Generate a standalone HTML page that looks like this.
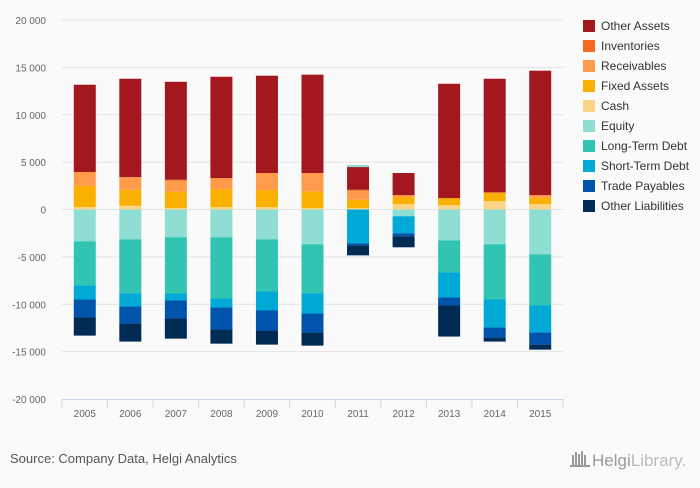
<!DOCTYPE html>
<html><head><meta charset="utf-8"><style>
body{margin:0;background:#fafafa;font-family:"Liberation Sans",sans-serif;}
svg text{font-family:"Liberation Sans",sans-serif;}
</style></head><body>
<svg id="chart" width="700" height="483" xmlns="http://www.w3.org/2000/svg">
<rect width="700" height="483" fill="#fafafa"/>
<g id="grid"></g><g id="bars"></g><g id="axes"></g><g id="legend"></g>
<text x="10" y="463" font-size="13" fill="#555">Source: Company Data, Helgi Analytics</text>
<g>
<g fill="#999"><rect x="572" y="455" width="2" height="11"/><rect x="575" y="452" width="2" height="14"/><rect x="578" y="454" width="2" height="12"/><rect x="581" y="451" width="2" height="15"/><rect x="584" y="455" width="2" height="11"/><rect x="570" y="465" width="20" height="2"/></g>
<text x="592" y="466" font-size="17" fill="#999" font-family="Liberation Serif, serif">Helgi<tspan fill="#bbb">Library.</tspan></text>
</g>
</svg>
<script>
const categories=["2005","2006","2007","2008","2009","2010","2011","2012","2013","2014","2015"];
const otherAssets=[9220,10380,10340,10690,10270,10380,2400,2330,12070,11960,13130];
const inventories=[0,0,100,0,0,0,100,0,0,110,0];
const receivables=[1450,1340,1170,1170,1800,1940,960,210,0,0,280];
const fixedAssets=[2250,1690,1730,1900,1800,1770,880,750,740,850,680];
const cash=[250,390,140,250,250,140,140,560,460,880,560];
const equity=[-3350,-3140,-2930,-2930,-3140,-3670,220,-710,-3250,-3670,-4730];
const longTermDebt=[-4660,-5720,-5930,-6460,-5510,-5190,0,0,-3390,-5830,-5400];
const shortTermDebt=[-1490,-1380,-740,-950,-2010,-2120,-3570,-1800,-2640,-2960,-2860];
const tradePayables=[-1900,-1800,-1910,-2330,-2120,-2010,-210,-310,-850,-1060,-1270];
const otherLiabilities=[-1910,-1900,-2120,-1490,-1480,-1380,-1060,-1170,-3280,-420,-530];
const yTicks=[20000,15000,10000,5000,0,-5000,-10000,-15000,-20000];
const seriesNames=["Other Assets","Inventories","Receivables","Fixed Assets","Cash","Equity","Long-Term Debt","Short-Term Debt","Trade Payables","Other Liabilities"];
const seriesColors=["#a3181f","#f26b21","#ff9b4a","#f9b000","#fbd587","#8fded3","#32c4b2","#00a9d6","#0054ac","#002b55"];
const seriesData=[otherAssets,inventories,receivables,fixedAssets,cash,equity,longTermDebt,shortTermDebt,tradePayables,otherLiabilities];
const NS="http://www.w3.org/2000/svg";
const x0=62,x1=563,yTop=20,yBot=399;
const y=v=>yTop+(20000-v)/40000*(yBot-yTop);
const bw=(x1-x0)/categories.length;
const xc=i=>x0+bw*(i+0.5);
function mk(t,a,p){const e=document.createElementNS(NS,t);for(const k in a)e.setAttribute(k,a[k]);p.appendChild(e);return e;}
const grid=document.getElementById('grid'),axes=document.getElementById('axes'),bars=document.getElementById('bars'),legend=document.getElementById('legend');
yTicks.forEach(v=>{
 if(v!==-20000){const l=mk('line',{x1:x0,x2:x1,y1:y(v),y2:y(v),stroke:'#e2e2e2','stroke-width':1},grid);
 
 }
 const t=mk('text',{x:46,y:y(v)+4,'font-size':10,fill:'#666','text-anchor':'end'},axes);
 t.textContent=v===0?'0':(v<0?'-':'')+Math.abs(v).toLocaleString('en').replace(',',' ');
 
 
});
const ax=mk('line',{x1:x0,x2:x1,y1:yBot+0.5,y2:yBot+0.5,stroke:'#ccd6eb'},axes);


for(let i=0;i<=categories.length;i++){const tk=mk('line',{x1:x0+bw*i,x2:x0+bw*i,y1:yBot,y2:yBot+9,stroke:'#ccd6eb'},axes);
 
 }
categories.forEach((c,i)=>{const t=mk('text',{x:xc(i),y:yBot+18,'font-size':10,fill:'#666','text-anchor':'middle'},axes);t.textContent=c;
 
 });
categories.forEach((c,i)=>{
 let pos=0,neg=0;
 // assets: stack from bottom upward, Cash first
 const order=[4,3,2,1,0,5,6,7,8,9];
 order.forEach(s=>{
  const v=seriesData[s][i]; if(!v) return;
  let a,b;
  if(v>0){a=pos;b=pos+v;pos=b;}else{a=neg;b=neg+v;neg=b;}
  const r=mk('rect',{x:xc(i)-11,width:22,y:y(Math.max(a,b)),height:Math.abs(y(a)-y(b)),fill:seriesColors[s]},bars);
  
  
 });
});
seriesNames.forEach((n,k)=>{
 const g=mk('g',{},legend);
 
 
 mk('rect',{x:583,y:20+k*20,width:12,height:12,fill:seriesColors[k]},g);
 const t=mk('text',{x:601,y:30+k*20,'font-size':12,fill:'#333'},g);t.textContent=n;
});
</script>
</body></html>
